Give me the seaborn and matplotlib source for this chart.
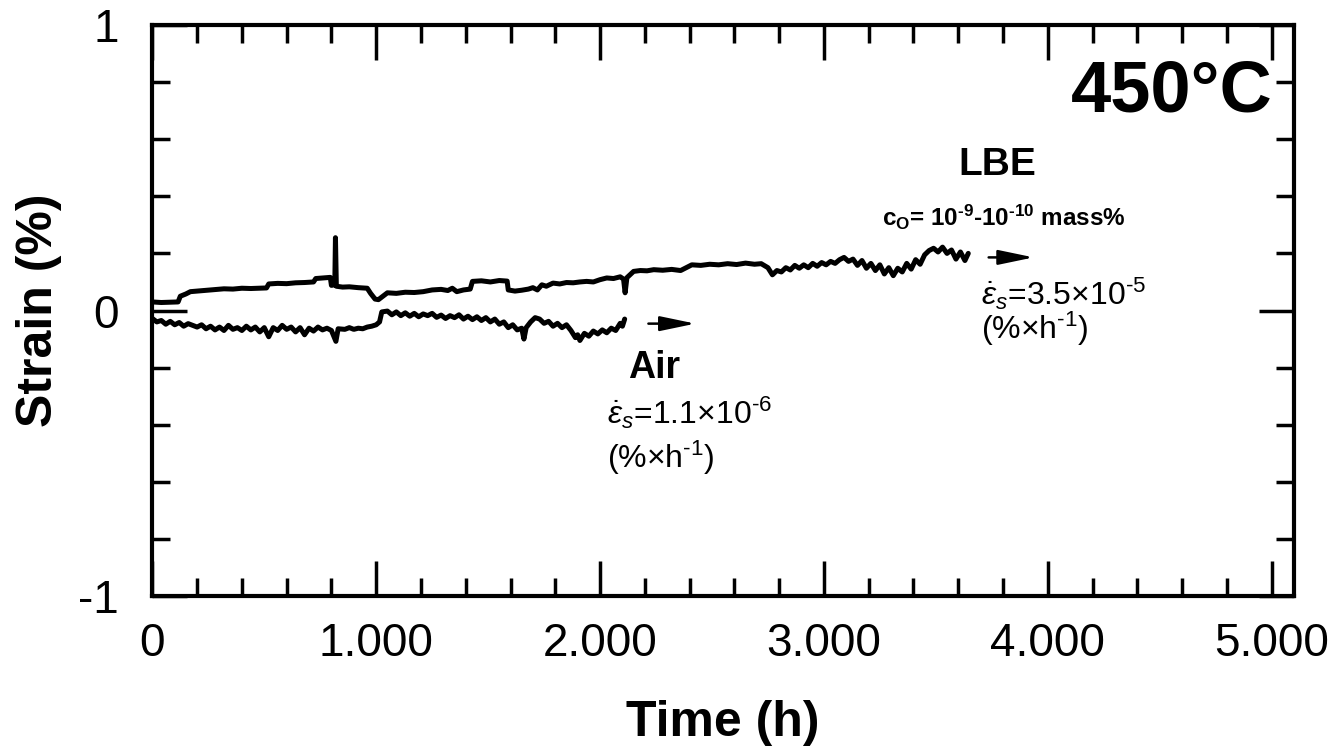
import numpy as np
import pandas as pd
import matplotlib
matplotlib.use("Agg")
import matplotlib.pyplot as plt
import seaborn as sns
from matplotlib.ticker import MultipleLocator

# ---------------- data ----------------
lbe_time = [0, 40, 80, 115, 125, 150, 170, 200, 240, 280, 320, 360, 400, 440, 480, 510,
            520, 560, 600, 640, 680, 720, 730, 760, 795, 800, 815, 818, 822, 850, 880, 920,
            960, 975, 995, 1010, 1030, 1050, 1090, 1130, 1170, 1210, 1250, 1290, 1320, 1340,
            1360, 1390, 1420, 1430, 1470, 1510, 1550, 1585, 1590, 1620, 1650, 1680, 1700,
            1720, 1740, 1760, 1790, 1820, 1850, 1880, 1910, 1940, 1970, 2000, 2030, 2060,
            2090, 2105, 2112, 2120, 2150, 2180, 2210, 2240, 2280, 2320, 2360, 2380, 2410,
            2450, 2490, 2530, 2570, 2610, 2650, 2690, 2720, 2750, 2770, 2790, 2810, 2830,
            2850, 2870, 2890, 2910, 2930, 2950, 2970, 2990, 3010, 3030, 3050, 3070, 3090,
            3110, 3130, 3150, 3170, 3190, 3210, 3230, 3250, 3270, 3290, 3310, 3330, 3350,
            3370, 3390, 3410, 3430, 3450, 3470, 3490, 3510, 3530, 3550, 3570, 3590, 3610,
            3630, 3645]
lbe_strain = [0.030, 0.028, 0.029, 0.030, 0.050, 0.058, 0.066, 0.068, 0.071, 0.073, 0.076,
              0.075, 0.078, 0.077, 0.078, 0.079, 0.093, 0.095, 0.094, 0.097, 0.098, 0.100,
              0.112, 0.114, 0.116, 0.088, 0.090, 0.255, 0.085, 0.082, 0.083, 0.080, 0.078,
              0.060, 0.040, 0.038, 0.050, 0.062, 0.060, 0.064, 0.063, 0.066, 0.072, 0.074,
              0.070, 0.078, 0.066, 0.072, 0.075, 0.102, 0.104, 0.100, 0.105, 0.103, 0.072,
              0.068, 0.071, 0.075, 0.080, 0.072, 0.090, 0.085, 0.096, 0.093, 0.098, 0.097,
              0.100, 0.102, 0.100, 0.108, 0.114, 0.112, 0.118, 0.110, 0.062, 0.115, 0.137,
              0.140, 0.139, 0.143, 0.141, 0.144, 0.140, 0.148, 0.160, 0.158, 0.162, 0.160,
              0.164, 0.161, 0.166, 0.162, 0.164, 0.150, 0.125, 0.140, 0.135, 0.150, 0.142,
              0.158, 0.148, 0.160, 0.150, 0.165, 0.155, 0.168, 0.160, 0.172, 0.165, 0.178,
              0.186, 0.172, 0.180, 0.158, 0.175, 0.148, 0.165, 0.140, 0.160, 0.128, 0.150,
              0.122, 0.148, 0.135, 0.165, 0.145, 0.178, 0.162, 0.195, 0.210, 0.218, 0.205,
              0.222, 0.200, 0.212, 0.180, 0.205, 0.175, 0.200]

air_time = [0, 20, 40, 60, 80, 100, 120, 140, 160, 180, 200, 220, 240, 260, 280, 300, 320,
            340, 360, 380, 400, 420, 440, 460, 480, 500, 520, 540, 560, 580, 600, 620, 640,
            660, 680, 700, 720, 740, 760, 780, 800, 820, 830, 860, 880, 900, 920, 940, 960,
            980, 1000, 1015, 1025, 1050, 1070, 1090, 1110, 1130, 1150, 1170, 1190, 1210,
            1230, 1250, 1270, 1290, 1310, 1330, 1350, 1370, 1390, 1410, 1430, 1450, 1470,
            1490, 1510, 1530, 1550, 1570, 1590, 1610, 1630, 1650, 1660, 1670, 1690, 1710,
            1730, 1750, 1770, 1790, 1810, 1830, 1850, 1870, 1890, 1900, 1910, 1930, 1950,
            1970, 1990, 2010, 2030, 2050, 2070, 2090, 2100, 2110]
air_strain = [-0.028, -0.040, -0.035, -0.048, -0.038, -0.050, -0.042, -0.055, -0.046, -0.052,
              -0.058, -0.050, -0.064, -0.055, -0.068, -0.058, -0.070, -0.052, -0.066, -0.060,
              -0.070, -0.055, -0.068, -0.058, -0.075, -0.060, -0.092, -0.060, -0.070, -0.052,
              -0.066, -0.058, -0.075, -0.060, -0.085, -0.062, -0.072, -0.058, -0.068, -0.062,
              -0.070, -0.108, -0.064, -0.066, -0.060, -0.066, -0.062, -0.064, -0.058, -0.055,
              -0.050, -0.040, -0.005, -0.002, -0.015, -0.005, -0.018, -0.008, -0.020, -0.010,
              -0.022, -0.012, -0.018, -0.010, -0.024, -0.016, -0.028, -0.018, -0.025, -0.015,
              -0.030, -0.020, -0.032, -0.022, -0.035, -0.025, -0.040, -0.030, -0.048, -0.040,
              -0.060, -0.050, -0.068, -0.062, -0.100, -0.060, -0.040, -0.025, -0.030, -0.045,
              -0.038, -0.055, -0.045, -0.060, -0.050, -0.070, -0.095, -0.085, -0.105, -0.080,
              -0.090, -0.072, -0.082, -0.068, -0.078, -0.062, -0.070, -0.045, -0.055, -0.030]

x_ticks = [0, 1000, 2000, 3000, 4000, 5000]
x_tick_labels = ["0", "1.000", "2.000", "3.000", "4.000", "5.000"]
y_ticks = [-1, 0, 1]
y_tick_labels = ["-1", "0", "1"]

# ---------------- style ----------------
sns.set_theme(style="white")
plt.rcParams["font.family"] = ["Liberation Sans", "DejaVu Sans"]
plt.rcParams["mathtext.fontset"] = "custom"
plt.rcParams["mathtext.rm"] = "Liberation Sans"
plt.rcParams["mathtext.it"] = "Liberation Sans:italic"
plt.rcParams["mathtext.bf"] = "Liberation Sans:bold"
plt.rcParams["text.color"] = "black"
plt.rcParams["axes.labelcolor"] = "black"
plt.rcParams["xtick.color"] = "black"
plt.rcParams["ytick.color"] = "black"

fig = plt.figure(figsize=(13.34, 7.51), dpi=100)
ax = fig.add_axes([0.1142, 0.2064, 0.8558, 0.7603])

lbe = pd.DataFrame({"time": lbe_time, "strain": lbe_strain})
air = pd.DataFrame({"time": air_time, "strain": air_strain})
sns.lineplot(data=lbe, x="time", y="strain", ax=ax, color="black", lw=3.6,
             sort=False, estimator=None)
sns.lineplot(data=air, x="time", y="strain", ax=ax, color="black", lw=3.6,
             sort=False, estimator=None)

ax.set_xlim(0, 5100)
ax.set_ylim(-1, 1)
ax.set_xticks(x_ticks)
ax.set_xticklabels(x_tick_labels)
ax.set_yticks(y_ticks)
ax.set_yticklabels(y_tick_labels)
ax.xaxis.set_minor_locator(MultipleLocator(200))
ax.yaxis.set_minor_locator(MultipleLocator(0.2))
ax.tick_params(which="both", direction="in", top=True, right=True, left=True,
               bottom=True, width=2.5, color="black", labelcolor="black")
ax.tick_params(which="major", length=25, labelsize=33)
ax.tick_params(axis="x", which="major", pad=19)
ax.tick_params(axis="y", which="major", pad=24)
ax.tick_params(which="minor", length=13)
for s in ax.spines.values():
    s.set_linewidth(3)
    s.set_color("black")

ax.set_xlabel("Time (h)", fontsize=36, fontweight="bold", labelpad=24)
ax.set_ylabel("Strain (%)", fontsize=36, fontweight="bold", labelpad=12)

# ---------------- annotations ----------------
HY = "\u2010"
ax.text(4555, 0.765, "450°C", fontsize=52, fontweight="bold", ha="center", va="center")
ax.text(3776, 0.511, "LBE", fontsize=28, fontweight="bold", ha="center", va="center")
ax.text(3803, 0.326,
        r"c$_\mathbf{O}$= 10$^{\mathbf{" + HY + r"9}}$" + "-" +
        r"10$^{\mathbf{" + HY + r"10}}$ mass%",
        fontsize=17.5, fontweight="bold", ha="center", va="center")
ax.text(3700, 0.058, r"$\dot{\varepsilon}_s$=3.5×10$^{" + HY + r"5}$", fontsize=23,
        ha="left", va="center")
ax.text(3700, -0.065, r"(%×h$^{" + HY + r"1}$)", fontsize=23, ha="left", va="center")

ax.text(2242, -0.20, "Air", fontsize=27, fontweight="bold", ha="center", va="center")
ax.text(2033, -0.357, r"$\dot{\varepsilon}_s$=1.1×10$^{" + HY + r"6}$", fontsize=23,
        ha="left", va="center")
ax.text(2033, -0.515, r"(%×h$^{" + HY + r"1}$)", fontsize=23, ha="left", va="center")

arrow = dict(arrowstyle="-|>,head_length=1.2,head_width=0.25", color="black",
             lw=1.8, shrinkA=0, shrinkB=0, mutation_scale=18)
ax.annotate("", xy=(2426, -0.046), xytext=(2216, -0.046), arrowprops=arrow)
ax.annotate("", xy=(3937, 0.186), xytext=(3736, 0.186), arrowprops=arrow)

fig.savefig("out.png", dpi=100)
